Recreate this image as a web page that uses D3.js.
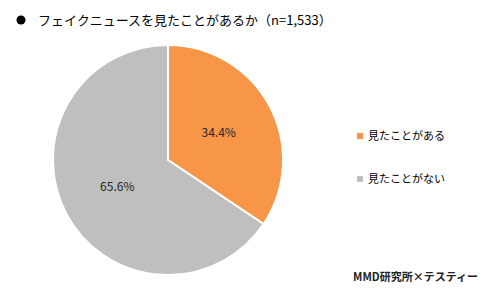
<!DOCTYPE html>
<html>
<head>
<meta charset="utf-8">
<script src="https://cdn.jsdelivr.net/npm/d3@7"></script>
<style>
  body { margin: 0; background: #fff; }
  text { font-family: "Noto Sans CJK JP", "Noto Sans", sans-serif; }
</style>
</head>
<body>
<svg width="480" height="288"></svg>
<script>
var categories = ["見たことがある", "見たことがない"];
var values = [34.4, 65.6];
var colors = ["#F79646", "#BFBFBF"];

var svg = d3.select("svg");

// Title
svg.append("circle")
    .attr("cx", 21).attr("cy", 20).attr("r", 4.5)
    .attr("fill", "#000");
svg.append("text")
    .attr("x", 38).attr("y", 25)
    .attr("font-size", 13)
    .attr("fill", "#000")
    .text("フェイクニュースを見たことがあるか（n=1,533）");

// Pie
var cx = 168, cy = 160, radius = 115;
var pie = d3.pie().sort(null).value(d => d);
var arc = d3.arc().innerRadius(0).outerRadius(radius);
var labelArc = d3.arc().innerRadius(radius * 0.5).outerRadius(radius * 0.5);

var g = svg.append("g").attr("transform", "translate(" + cx + "," + cy + ")");

var arcs = pie(values);

g.selectAll("path")
    .data(arcs)
    .enter()
    .append("path")
    .attr("d", arc)
    .attr("fill", (d, i) => colors[i])
    .attr("stroke", "#fff")
    .attr("stroke-width", 2);

g.selectAll("text.label")
    .data(arcs)
    .enter()
    .append("text")
    .attr("class", "label")
    .attr("x", d => labelArc.centroid(d)[0])
    .attr("y", d => labelArc.centroid(d)[1] + 4)
    .attr("text-anchor", "middle")
    .attr("font-size", 12)
    .attr("fill", "#262626")
    .text(d => d.data.toFixed(1) + "%");

// Legend
var legend = svg.selectAll("g.legend")
    .data(categories)
    .enter()
    .append("g")
    .attr("class", "legend")
    .attr("transform", (d, i) => "translate(357," + (136 + i * 43) + ")");

legend.append("rect")
    .attr("x", 0).attr("y", -3)
    .attr("width", 6).attr("height", 6)
    .attr("fill", (d, i) => colors[i]);

legend.append("text")
    .attr("x", 11).attr("y", 4)
    .attr("font-size", 11)
    .attr("fill", "#000")
    .text(d => d);

// Source
svg.append("text")
    .attr("x", 478).attr("y", 281)
    .attr("text-anchor", "end")
    .attr("font-size", 11)
    .attr("font-weight", "bold")
    .attr("fill", "#222")
    .text("MMD研究所×テスティー");
</script>
</body>
</html>
